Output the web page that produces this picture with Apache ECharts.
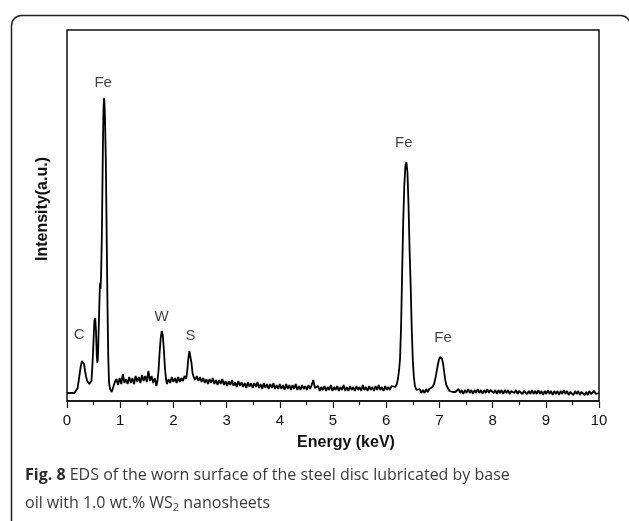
<!DOCTYPE html>
<html>
<head>
<meta charset="utf-8">
<script src="https://cdn.jsdelivr.net/npm/echarts@6/dist/echarts.min.js"></script>
<style>
  html, body { margin: 0; padding: 0; background: #fff; }
  #chart { width: 629px; height: 521px; }
</style>
</head>
<body>
<div id="chart"></div>
<script>
// EDS spectrum: [energy keV, intensity a.u.]
var spectrumLow = [
  [0.00,8],[0.05,8],[0.10,8],[0.14,8],[0.17,9],[0.20,13],[0.23,24],[0.26,35],[0.28,40],[0.30,41],
  [0.32,37],[0.34,30],[0.36,24],[0.38,20],[0.40,18],[0.42,17],[0.445,16],[0.46,20],[0.48,38],[0.50,62],
  [0.515,80],[0.53,83],[0.545,70],[0.56,45],[0.57,38],[0.58,42],[0.595,70],[0.61,100],[0.62,118],[0.63,112],
  [0.64,124],[0.655,165],[0.665,210],[0.675,255],[0.685,290],[0.695,303],[0.705,298],[0.715,280],[0.73,240],
  [0.745,170],[0.76,100],[0.775,45],[0.79,18],[0.81,12],[0.84,9],[0.87,14],[0.90,19]
];
var spectrumMid = [
  [0.93,22],[0.96,16],[0.99,23],[1.02,17],[1.05,27],[1.08,18],[1.11,22],[1.14,17],[1.17,24],[1.20,18],
  [1.23,23],[1.26,17],[1.29,25],[1.32,19],[1.35,24],[1.38,18],[1.41,26],[1.44,20],[1.47,25],[1.50,19],
  [1.53,30],[1.56,20],[1.59,25],[1.62,18],[1.65,23],[1.68,15],[1.70,20],[1.72,30],[1.74,48],[1.76,62],
  [1.78,70],[1.80,66],[1.82,52],[1.84,34],[1.86,22],[1.88,17],[1.91,22],[1.94,18],[1.97,24],[2.00,19],
  [2.03,23],[2.06,18],[2.09,24],[2.12,19],[2.15,23],[2.18,20],[2.21,25],[2.24,22],[2.26,30],[2.28,42],
  [2.30,50],[2.32,48],[2.34,38],[2.36,28],[2.38,24],[2.41,21],[2.44,25],[2.47,20],[2.50,24]
];
var spectrumHigh = [
  [2.53,19],[2.56,23],[2.59,18],[2.62,22],[2.65,17],[2.68,22],[2.71,18],[2.74,23],[2.77,17],[2.80,21],
  [2.83,16],[2.86,21],[2.89,17],[2.92,22],[2.95,16],[2.98,20],[3.01,15],[3.04,20],[3.07,16],[3.10,21],
  [3.13,15],[3.16,19],[3.19,14],[3.22,20],[3.25,15],[3.28,19],[3.31,14],[3.34,18],[3.37,13],[3.40,19],
  [3.43,14],[3.46,18],[3.49,13],[3.52,18],[3.55,14],[3.58,19],[3.61,13],[3.64,17],[3.67,12],[3.70,18],
  [3.73,13],[3.76,17],[3.79,12],[3.82,17],[3.85,13],[3.88,18],[3.91,12],[3.94,16],[3.97,12],[4.00,17],
  [4.03,12],[4.06,16],[4.09,11],[4.12,17],[4.15,12],[4.18,16],[4.21,11],[4.24,16],[4.27,12],[4.30,17],
  [4.33,11],[4.36,15],[4.39,11],[4.42,16],[4.45,12],[4.48,15],[4.51,11],[4.54,16],[4.57,12],[4.60,16],
  [4.63,21],[4.66,13],[4.69,11],[4.72,15],[4.75,10],[4.78,14],[4.81,11],[4.84,15],[4.87,10],[4.90,14],
  [4.93,11],[4.96,16],[4.99,10],[5.02,14],[5.05,11],[5.08,15],[5.11,10],[5.14,14],[5.17,11],[5.20,16],
  [5.23,10],[5.26,14],[5.29,10],[5.32,15],[5.35,11],[5.38,14],[5.41,10],[5.44,15],[5.47,11],[5.50,14],
  [5.53,10],[5.56,16],[5.59,11],[5.62,14],[5.65,10],[5.68,15],[5.71,11],[5.74,14],[5.77,10],[5.80,15],
  [5.83,11],[5.86,16],[5.89,11],[5.92,14],[5.95,10],[5.98,15],[6.01,11],[6.04,14],[6.07,11],[6.10,15],
  [6.13,13]
];
var spectrumFe = [
  [6.17,14],[6.20,17],[6.22,22],[6.24,30],[6.26,42],[6.28,75],[6.30,130],[6.32,180],[6.34,215],[6.36,235],
  [6.38,239],[6.40,228],[6.42,195],[6.44,150],[6.46,115],[6.48,72],[6.50,41],[6.52,24],[6.54,15],[6.57,11],
  [6.60,9],[6.63,12],[6.66,8],[6.69,11],[6.72,8],[6.75,12],[6.78,9],[6.81,12],[6.84,11],[6.87,14],
  [6.90,17],[6.93,24],[6.95,30],[6.97,36],[6.99,41],[7.01,44],[7.03,46],[7.05,42],[7.07,37],[7.09,29],
  [7.11,21],[7.13,16],[7.16,13],[7.19,10],[7.22,12],[7.25,9],[7.28,11],[7.30,9]
];
var spectrumTail = [
  [7.33,10],[7.36,12],[7.39,8],[7.42,11],[7.45,7],[7.48,11],[7.51,8],[7.54,12],[7.57,8],[7.60,11],
  [7.63,7],[7.66,11],[7.69,8],[7.72,12],[7.75,8],[7.78,11],[7.81,7],[7.84,11],[7.87,8],[7.90,12],
  [7.93,8],[7.96,11],[7.99,13],[8.02,8],[8.05,11],[8.08,7],[8.11,11],[8.14,8],[8.17,11],[8.20,7],
  [8.23,11],[8.26,8],[8.29,11],[8.32,7],[8.35,10],[8.38,12],[8.41,8],[8.44,11],[8.47,7],[8.50,10],
  [8.53,11],[8.56,7],[8.59,10],[8.62,11],[8.65,7],[8.68,10],[8.71,7],[8.74,11],[8.77,7],[8.80,10],
  [8.83,7],[8.86,11],[8.89,7],[8.92,10],[8.95,6],[8.98,10],[9.01,7],[9.04,11],[9.07,7],[9.10,10],
  [9.13,6],[9.16,10],[9.19,7],[9.22,10],[9.25,6],[9.28,10],[9.31,7],[9.34,11],[9.37,7],[9.40,10],
  [9.43,6],[9.46,9],[9.49,10],[9.52,6],[9.55,10],[9.58,7],[9.61,10],[9.64,6],[9.67,9],[9.70,10],
  [9.73,6],[9.76,9],[9.79,6],[9.82,10],[9.85,7],[9.88,6],[9.91,10],[9.94,7],[9.97,6],[10.00,8]
];

// peak annotations
var labelNames  = ['C', 'Fe', 'W', 'S', 'Fe', 'Fe'];
var labelEnergy = [0.23, 0.68, 1.78, 2.32, 6.33, 7.07];
var labelHeight = [66, 318, 84, 65, 258, 63];

var spectrum = spectrumLow.concat(spectrumMid, spectrumHigh, spectrumFe, spectrumTail);
var labels = labelNames.map(function (n, i) {
  return { name: n, value: [labelEnergy[i], labelHeight[i]] };
});

var myChart = echarts.init(document.getElementById('chart'));
var option = {
  backgroundColor: '#fff',
  animation: false,
  grid: {
    left: 67, right: 30, top: 30, bottom: 120,
    show: true, borderColor: '#111', borderWidth: 1.5
  },
  xAxis: {
    type: 'value',
    min: 0, max: 10, interval: 1,
    name: 'Energy (keV)',
    nameLocation: 'middle',
    nameGap: 34,
    nameTextStyle: { fontFamily: 'Liberation Sans', fontWeight: 'bold', fontSize: 16, color: '#111', padding: [0, 0, 0, 26] },
    axisLine: { lineStyle: { color: '#111', width: 1.5 } },
    axisTick: { length: 7, lineStyle: { color: '#111', width: 1.2 } },
    minorTick: { show: true, splitNumber: 2, length: 4, lineStyle: { color: '#111', width: 1.2 } },
    axisLabel: { fontFamily: 'Liberation Sans', fontSize: 15, color: '#111', margin: 12 },
    splitLine: { show: false }
  },
  yAxis: {
    type: 'value',
    min: 0, max: 371,
    name: 'Intensity(a.u.)',
    nameLocation: 'middle',
    nameGap: 16,
    nameTextStyle: { fontFamily: 'Liberation Sans', fontWeight: 'bold', fontSize: 16, color: '#111', padding: [0, 0, 0, 13] },
    axisLine: { show: false },
    axisTick: { show: false },
    axisLabel: { show: false },
    splitLine: { show: false }
  },
  series: [
    {
      type: 'line',
      data: spectrum,
      showSymbol: false,
      lineStyle: { color: '#000', width: 1.8 }
    },
    {
      type: 'scatter',
      data: labels,
      symbolSize: 0,
      label: {
        show: true, position: 'inside', formatter: '{b}',
        fontFamily: 'Liberation Sans', fontSize: 15, color: '#111'
      }
    }
  ],
  graphic: [
    {
      type: 'rect', left: 9, top: 13,
      shape: { width: 619, height: 530, r: 10 },
      style: { fill: 'none', stroke: '#222', lineWidth: 1.5 },
      silent: true
    },
    {
      type: 'text', left: 25, top: 461,
      style: {
        text: '{b|Fig. 8} EDS of the worn surface of the steel disc lubricated by base\noil with 1.0 wt.% WS{sub|2} nanosheets',
        fontFamily: 'Open Sans', fontSize: 16, lineHeight: 28, fill: '#3a3a3a',
        rich: {
          b: { fontFamily: 'Open Sans', fontWeight: 'bold', fontSize: 16, fill: '#2a2a2a' },
          sub: { fontFamily: 'Open Sans', fontSize: 11, verticalAlign: 'middle', padding: [9, 0, 0, 0], fill: '#3a3a3a' }
        }
      }
    }
  ]
};
myChart.setOption(option);
myChart.resize();
</script>
</body>
</html>
